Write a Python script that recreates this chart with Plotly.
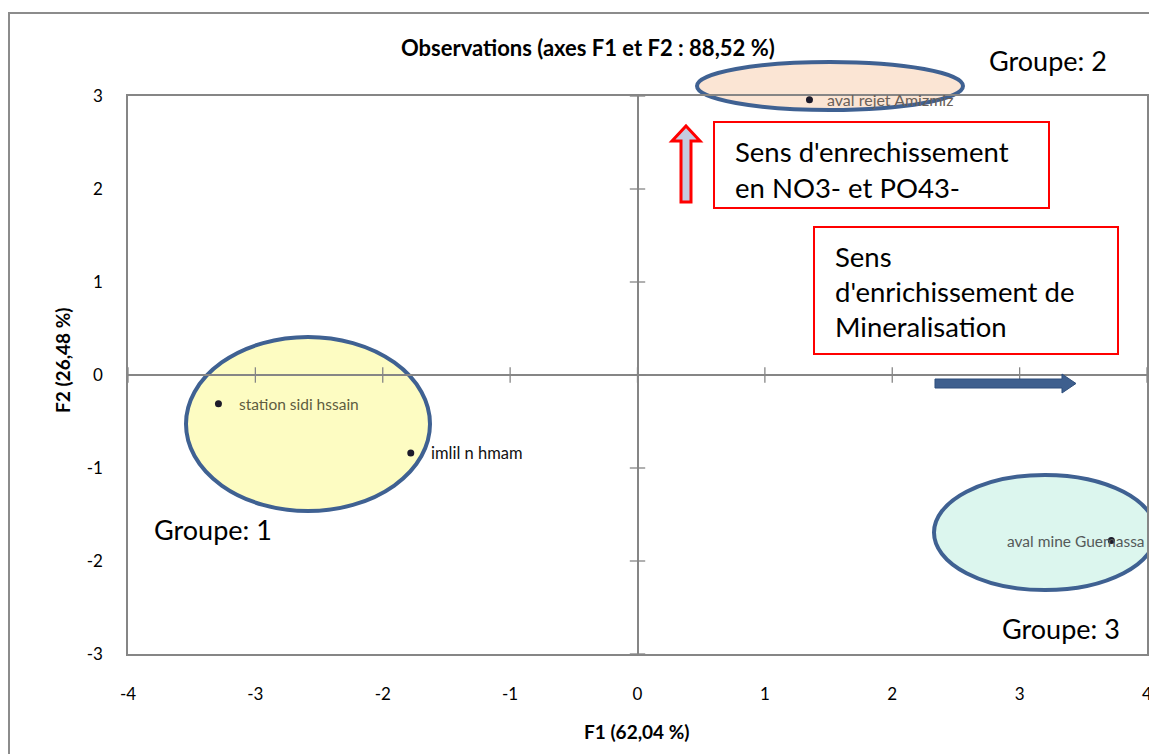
import plotly.graph_objects as go

# ---------------- data ----------------
obs_names = ["station sidi hssain", "imlil n hmam", "aval rejet Amizmiz", "aval mine Guemassa"]
f1_values = [-3.29, -1.78, 1.35, 3.72]
f2_values = [-0.31, -0.84, 2.96, -1.78]
x_ticks = [-4, -3, -2, -1, 0, 1, 2, 3, 4]
y_ticks = [-3, -2, -1, 0, 1, 2, 3]
title_text = "Observations (axes F1 et F2 : 88,52 %)"
x_title = "F1 (62,04 %)"
y_title = "F2 (26,48 %)"
group_labels = ["Groupe: 1", "Groupe: 2", "Groupe: 3"]

# ---------------- layout helpers ----------------
OFF = 8  # page body margin of the browser
W, H = 1149, 746
# plot area in screen pixels: left 128, right 1147, top 96, bottom 654
L, T = 128 - OFF, 96 - OFF
R = W - (1147 - OFF)
B = H - (654 - OFF)
PW, PH = W - L - R, H - T - B


def px(x):  # screen pixel x -> paper
    return (x - OFF - L) / PW


def py(y):  # screen pixel y -> paper
    return (H - B - (y - OFF)) / PH


def path(points):
    return "M " + " L ".join(f"{px(a):.5f},{py(b):.5f}" for a, b in points) + " Z"


FONT = "Lato, 'Open Sans', sans-serif"
GRAY = "#868686"

fig = go.Figure()

# tick marks crossing the zero lines (Excel style)
fig.add_trace(go.Scatter(
    x=x_ticks, y=[0] * len(x_ticks), mode="markers", hoverinfo="skip",
    marker=dict(symbol="line-ns", size=11, line=dict(color=GRAY, width=1.3)),
    showlegend=False, cliponaxis=False))
fig.add_trace(go.Scatter(
    x=[0] * len(y_ticks), y=y_ticks, mode="markers", hoverinfo="skip",
    marker=dict(symbol="line-ew", size=11, line=dict(color=GRAY, width=1.3)),
    showlegend=False, cliponaxis=False))

# observations
fig.add_trace(go.Scatter(
    x=f1_values, y=f2_values, mode="markers", text=obs_names,
    marker=dict(size=7, color="#1c1a2a"), showlegend=False, cliponaxis=False))

label_style = [
    dict(color="#5e5c40", size=15.5, xshift=19),
    dict(color="#111111", size=16.5, xshift=18),
    dict(color="#6a6058", size=16, xshift=16),
    dict(color="#555a5a", size=15.5, xshift=-106),
]
annotations = []
for name, xv, yv, st in zip(obs_names, f1_values, f2_values, label_style):
    annotations.append(dict(
        x=xv, y=yv, xref="x", yref="y", text=name, showarrow=False,
        xanchor="left", yanchor="middle", xshift=st["xshift"],
        font=dict(family=FONT, size=st["size"], color=st["color"])))


def text_at(sx, sy, txt, size, angle=0, anchor="center"):
    return dict(x=px(sx), y=py(sy), xref="paper", yref="paper", text=txt, showarrow=False,
                xanchor=anchor, yanchor="middle", textangle=angle,
                font=dict(family=FONT, size=size, color="#000"))


# title and axis titles
annotations.append(text_at(588, 47, f"<b>{title_text}</b>", 22))
annotations.append(text_at(637, 732, f"<b>{x_title}</b>", 19))
annotations.append(text_at(62, 360, f"<b>{y_title}</b>", 19, angle=-90))

# group labels
for txt, (gx, gy) in zip(group_labels, [(213, 529), (1048, 61), (1061, 628)]):
    annotations.append(text_at(gx, gy, txt, 27))

# text boxes
box1_lines = ["Sens d'enrechissement", "en NO3- et PO43-"]
box2_lines = ["Sens", "d'enrichissement de", "Mineralisation"]
for i, t in enumerate(box1_lines):
    annotations.append(text_at(733, 152 + 35 * i, t, 27.5, anchor="left"))
for i, t in enumerate(box2_lines):
    annotations.append(text_at(833, 256 + 35 * i, t, 27.5, anchor="left"))

shapes = []
# outer frame of the picture
shapes.append(dict(type="rect", xref="paper", yref="paper", x0=px(9), x1=px(1175), y0=py(780), y1=py(13),
                   line=dict(color="#8c8c8c", width=2), fillcolor="rgba(0,0,0,0)", layer="below"))
# group ellipses
ell = [
    ((186, 337, 430, 511), "#fdfcc2"),
    ((697, 62, 963, 110), "#fbe5d4"),
    ((934, 475, 1156, 590), "#dcf6ee"),
]
for (x0, y0, x1, y1), fc in ell:
    shapes.append(dict(type="circle", xref="paper", yref="paper", x0=px(x0), x1=px(x1), y0=py(y1), y1=py(y0),
                       line=dict(color="#3f6192", width=4), fillcolor=fc, layer="below"))
# red text boxes
shapes.append(dict(type="rect", xref="paper", yref="paper", x0=px(714), x1=px(1049), y0=py(208), y1=py(122),
                   line=dict(color="#ff0000", width=2), fillcolor="white", layer="above"))
shapes.append(dict(type="rect", xref="paper", yref="paper", x0=px(814), x1=px(1118), y0=py(354), y1=py(227),
                   line=dict(color="#ff0000", width=2), fillcolor="white", layer="above"))
# arrows
shapes.append(dict(type="path", xref="paper", yref="paper",
                   path=path([(686, 126), (700, 141), (691, 141), (691, 202), (681, 202), (681, 141), (672, 141)]),
                   line=dict(color="#ff0000", width=3), fillcolor="#c5cbe0", layer="above"))
shapes.append(dict(type="path", xref="paper", yref="paper",
                   path=path([(935, 379), (1062, 379), (1062, 374), (1076, 383.5), (1062, 393), (1062, 388), (935, 388)]),
                   line=dict(color="#2e4f7c", width=1), fillcolor="#3e5f8e", layer="above"))

fig.update_layout(
    width=W, height=H,
    margin=dict(l=L, r=R, t=T, b=B, autoexpand=False),
    paper_bgcolor="white", plot_bgcolor="rgba(0,0,0,0)",
    font=dict(family=FONT, size=13, color="#000"),
    showlegend=False,
    shapes=shapes, annotations=annotations,
)
fig.update_xaxes(range=[-4, 4], tickvals=x_ticks, ticktext=[str(v) for v in x_ticks],
                 showgrid=False, zeroline=True, zerolinecolor=GRAY, zerolinewidth=1.5,
                 showline=True, mirror=True, linecolor=GRAY, linewidth=1.5,
                 ticks="outside", ticklen=24, tickcolor="rgba(0,0,0,0)",
                 tickfont=dict(family=FONT, size=17, color="#000"), fixedrange=True)
fig.update_yaxes(range=[-3, 3], tickvals=y_ticks, ticktext=[str(v) for v in y_ticks],
                 showgrid=False, zeroline=True, zerolinecolor=GRAY, zerolinewidth=1.5,
                 showline=True, mirror=True, linecolor=GRAY, linewidth=1.5,
                 ticks="outside", ticklen=20, tickcolor="rgba(0,0,0,0)",
                 tickfont=dict(family=FONT, size=17, color="#000"), fixedrange=True)

fig.write_html("out.html")
